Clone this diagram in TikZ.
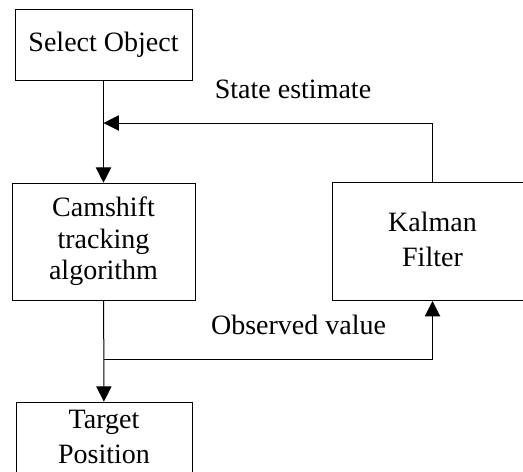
\documentclass[tikz,border=0pt]{standalone}
\usepackage{fontspec}
\setmainfont{Liberation Serif}
\usetikzlibrary{arrows.meta}

\begin{document}
\begin{tikzpicture}[x=0.75pt, y=-0.75pt, every node/.style={font=\fontsize{21}{26.25}\selectfont}, box/.style={draw, line width=0.75pt, inner sep=0pt}, flow/.style={-{Triangle[length=11.5pt, width=11.5pt]}, line width=0.75pt}]
\useasboundingbox (0,0) rectangle (523,471);
\clip (0,0) rectangle (523,471);

\node[box, minimum width=132.75pt, minimum height=53.25pt] (select) at (103.5, 44.5) {Select Object};

\node[box, minimum width=137.25pt, minimum height=87.75pt, font=\fontsize{21}{23.7}\selectfont] (camshift) at (103.5, 241.7) {\begin{tabular}{c}
Camshift \\
tracking \\
algorithm
\end{tabular}};

\node[box, minimum width=150.75pt, minimum height=88.5pt] (kalman) at (432.5, 241.5) {\begin{tabular}{c}
Kalman \\
Filter
\end{tabular}};

\node[box, minimum width=132pt, minimum height=55pt] (target) at (104, 438.8) {\begin{tabular}{c}
Target \\
Position
\end{tabular}};

\node (estimate) at (293, 89.5) {State estimate};
\node (observed) at (298.5, 325.3) {Observed value};

\coordinate (merge) at (103.5, 123);
\coordinate (branch) at (103.5, 359);

\draw[flow] (select) -- (camshift);
\draw[flow] (kalman.north) |- (merge);
\draw[flow] (camshift) -- (target);
\draw[flow] (branch) -| (kalman);
\end{tikzpicture}
\end{document}
